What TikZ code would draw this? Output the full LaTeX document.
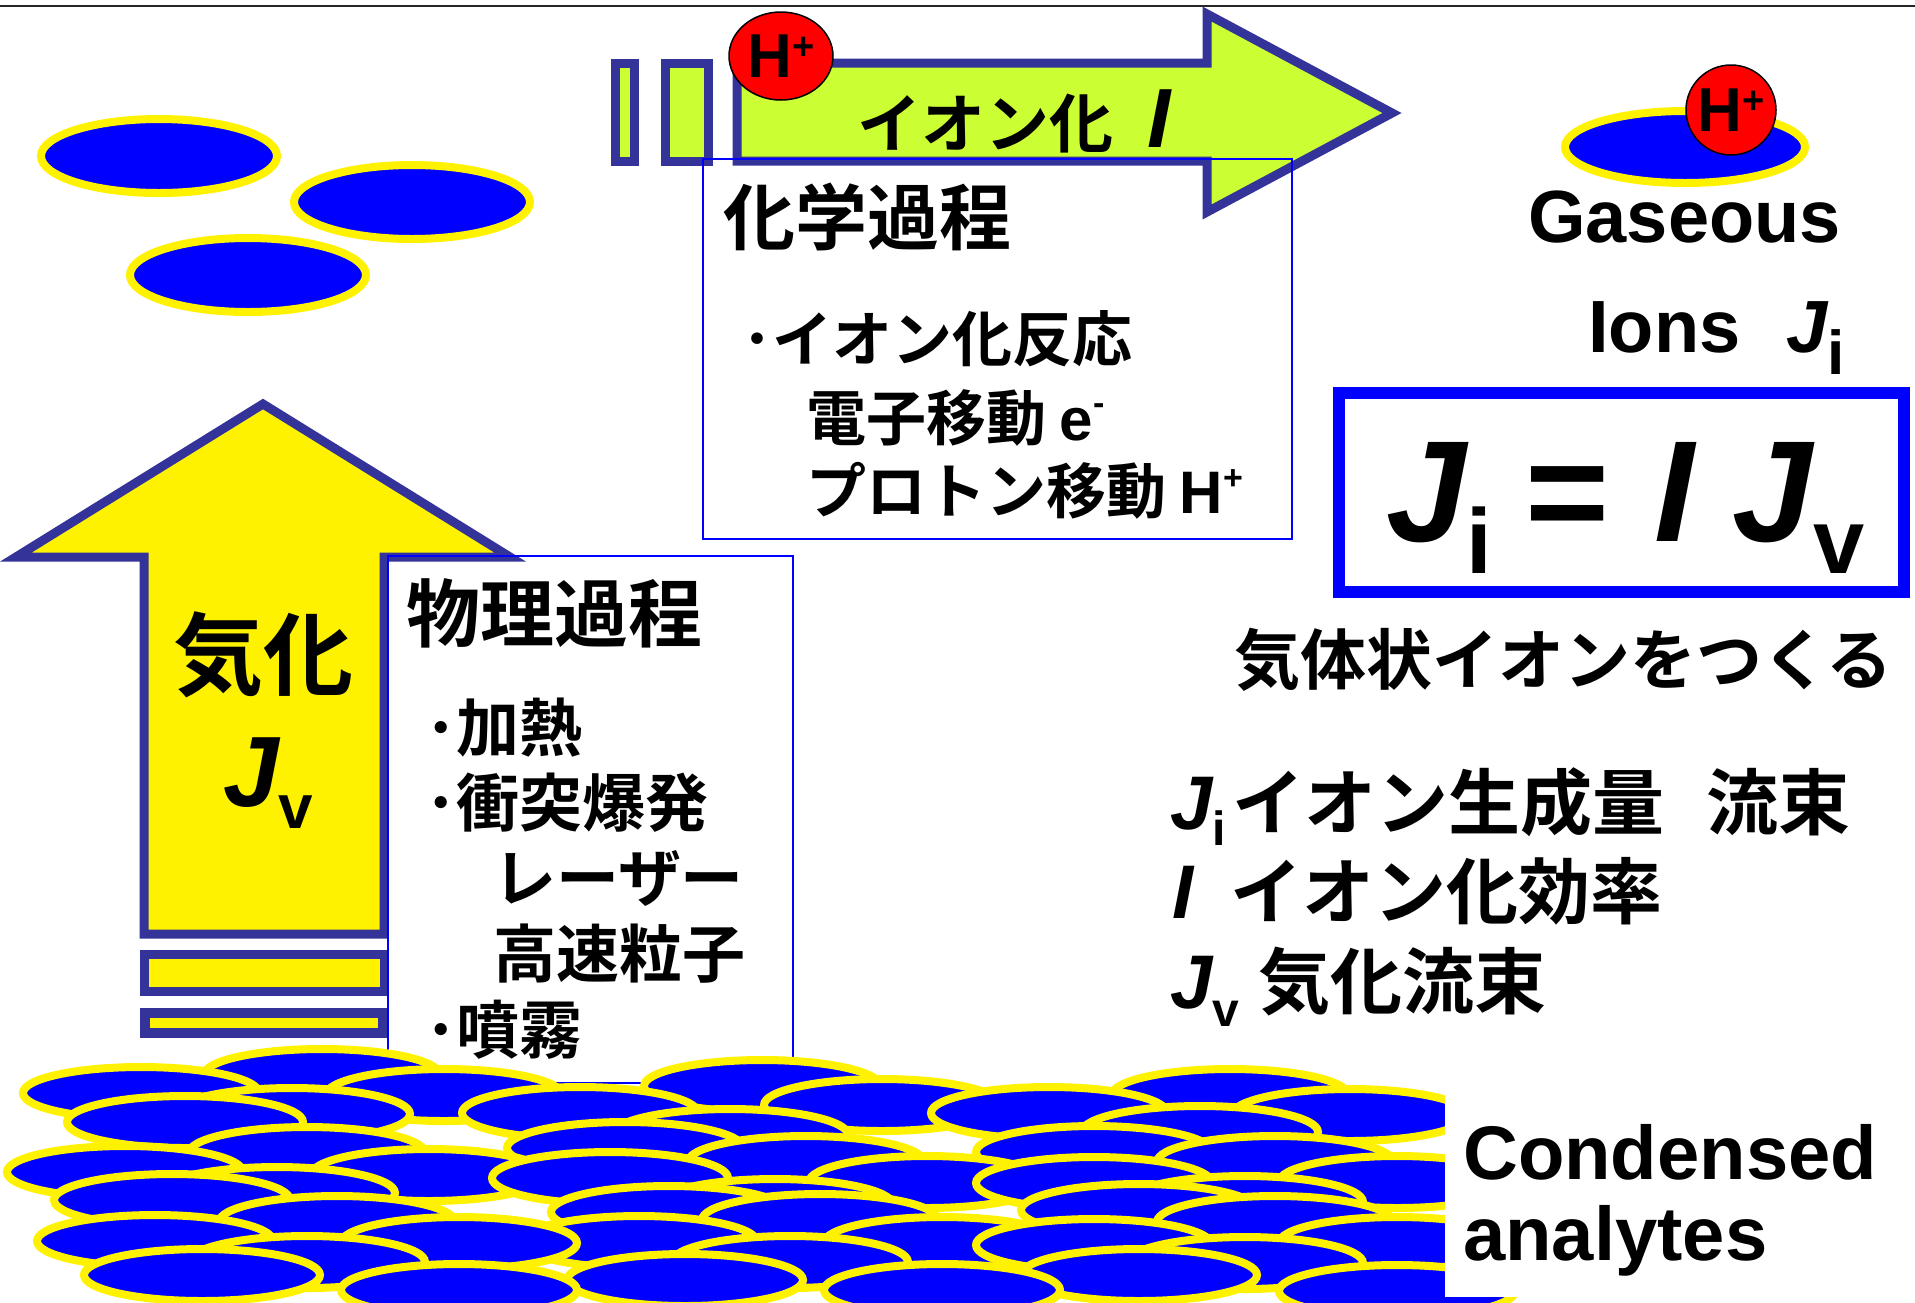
\documentclass[tikz,border=0pt]{standalone}
\usepackage{fontspec}
\usetikzlibrary{shapes.geometric}
\setmainfont{Liberation Sans}
\newfontfamily\jpfont{Noto Sans CJK JP}[BoldFont={* Bold}]
\definecolor{navyedge}{HTML}{333399}
\definecolor{limefill}{HTML}{CCFF33}
% lowered subscript: size, drop, text
\newcommand{\lowsub}[3]{\raisebox{-#2pt}{\fontsize{#1}{#1}\selectfont\rmfamily\upshape #3}}
\newcommand{\highsup}[3]{\raisebox{#2pt}{\fontsize{#1}{#1}\selectfont\rmfamily\upshape #3}}
\tikzset{
  arrowbody/.style={draw=navyedge, line width=9pt, line join=miter, miter limit=10},
  molecule/.style={draw=yellow, fill=blue, line width=8pt},
  grain/.style={draw=yellow, fill=blue, line width=8pt},
  proton/.style={draw=black, fill=red, line width=1.5pt},
  framebox/.style={draw=blue, line width=1.5pt},
  jp/.style={inner sep=0pt, font={\jpfont\bfseries\fontsize{#1}{#1}\selectfont}},
  lat/.style={inner sep=0pt, font={\rmfamily\bfseries\fontsize{#1}{#1}\selectfont}},
}
\begin{document}
\begin{tikzpicture}[x=1pt,y=-1pt]
\clip (0,0) rectangle (1915,1302);
\fill[white] (0,0) rectangle (1915,1302);

% rule under the title area
\draw[line width=2pt, black!85] (0,6) -- (1915,6);

% free gas-phase molecules
\draw[molecule] (159,156) ellipse [x radius=118pt, y radius=37pt];
\draw[molecule] (412,202) ellipse [x radius=118pt, y radius=37pt];
\draw[molecule] (248,275) ellipse [x radius=118pt, y radius=37pt];

% gaseous ion with attached proton
\draw[molecule] (1685,147) ellipse [x radius=120pt, y radius=36pt];
\node[proton, circle, minimum size=90pt, inner sep=0pt, lat=62] (ionproton) at (1731,110) {H\highsup{38}{18}{+}};

% ionization arrow
\draw[arrowbody, fill=limefill] (615,63) rectangle (634,161);
\draw[arrowbody, fill=limefill] (665,63) rectangle (708,161);
\draw[arrowbody, fill=limefill] (737,63) -- (1207,63) -- (1207,14) -- (1392,113)
  -- (1207,212) -- (1207,161) -- (737,161) -- cycle;
\node[proton, ellipse, minimum width=104pt, minimum height=88pt, inner sep=0pt, lat=62] (arrowproton) at (781,56) {H\highsup{38}{18}{+}};
\node[jp=64, anchor=base west] (ionlabel) at (857,147) {イオン化\hspace{34pt}{\rmfamily\itshape\fontsize{84}{84}\selectfont I}};

% chemical process frame
\draw[framebox] (703,159) rectangle (1292,539);
\node[jp=72, anchor=base west] (chemtitle) at (723,244) {化学過程};
\node[jp=60, anchor=base west] (chemA) at (742,361) {･イオン化反応};
\node[jp=60, anchor=base west] (chemB) at (806,440) {電子移動 {\rmfamily e}\highsup{34}{26}{-}};
\node[jp=60, anchor=base west] (chemC) at (806,513) {プロトン移動 {\rmfamily H}\highsup{34}{24}{+}};

% vaporization arrow
\draw[arrowbody, fill=yellow] (263,404) -- (510,557) -- (384,557) -- (384,934)
  -- (144,934) -- (144,557) -- (16,557) -- cycle;
\draw[arrowbody, fill=yellow] (144,954) rectangle (384,991);
\draw[arrowbody, line width=10pt, fill=yellow] (145,1013) rectangle (383,1033);
\node[jp=90] (vaplabel) at (263,655) {気化};
\node[lat=100, anchor=base west] (vapflux) at (223,806) {\itshape J\lowsub{62}{22}{v}};

% physical process frame
\draw[framebox] (388,556) rectangle (793,1083);
\node[jp=74, anchor=base west] (phystitle) at (406,641) {物理過程};
\node[jp=63, anchor=base west] (physA) at (425,751) {･加熱};
\node[jp=63, anchor=base west] (physB) at (425,826) {･衝突爆発};
\node[jp=63, anchor=base west] (physC) at (493,901) {レーザー};
\node[jp=63, anchor=base west] (physD) at (493,977) {高速粒子};
\node[jp=63, anchor=base west] (physE) at (425,1053) {･噴霧};

% condensed analyte layer
\foreach \cx/\cy in {322/1075, 762/1086, 141/1093, 444/1095, 1230/1095, 882/1105,
  580/1113, 1049/1113, 292/1114, 1350/1115, 185/1122, 1200/1132, 730/1135,
  625/1148, 1094/1152, 307/1153, 806/1162, 1275/1162, 125/1172, 429/1175,
  610/1178, 927/1182, 1397/1182, 1094/1183, 277/1193, 172/1200, 1245/1202,
  775/1205, 1139/1210, 669/1212, 337/1222, 820/1220, 1275/1222, 155/1241,
  639/1242, 459/1243, 942/1243, 1397/1243, 1094/1245, 307/1262, 790/1262,
  1245/1263, 202/1275, 1139/1275, 685/1280, 459/1290, 942/1290, 1397/1291}
  \draw[grain] (\cx,\cy) ellipse [x radius=118pt, y radius=26pt];

% label panel on the right of the layer
\fill[white] (1445,1095) rectangle (1915,1297);
\node[lat=76, anchor=base west] (condA) at (1463,1179) {Condensed};
\node[lat=76, anchor=base west] (condB) at (1463,1260) {analytes};

% gaseous ions labels
\node[lat=74, anchor=base west] (gasA) at (1528,242) {Gaseous};
\node[lat=74, anchor=base west] (gasB) at (1588,352) {Ions};
\node[lat=74, anchor=base west] (gasJ) at (1786,352) {\itshape J\lowsub{62}{22}{i}};

% master relation
\draw[blue, line width=12pt] (1339,393) rectangle (1904,592);
\node[lat=144, anchor=base west] (relation) at (1386,541)
  {\itshape J\lowsub{92}{32}{i}\hspace{34pt}{\upshape =}\hspace{45pt}I\hspace{38pt}J\lowsub{92}{32}{v}};
\node[jp=66, anchor=base west] (goal) at (1234,684) {気体状イオンをつくる};

% legend
\node[lat=76, anchor=base west] (legJi) at (1170,829) {\itshape J\lowsub{48}{16}{i}};
\node[jp=72, anchor=base west] (legJiText) at (1232,829) {イオン生成量};
\node[jp=72, anchor=base west] (legFlux) at (1706,829) {流束};
\node[lat=76, anchor=base west] (legI) at (1172,918) {\itshape I};
\node[jp=72, anchor=base west] (legIText) at (1230,918) {イオン化効率};
\node[lat=76, anchor=base west] (legJv) at (1170,1008) {\itshape J\lowsub{48}{18}{v}};
\node[jp=72, anchor=base west] (legJvText) at (1258,1008) {気化流束};
\end{tikzpicture}
\end{document}
